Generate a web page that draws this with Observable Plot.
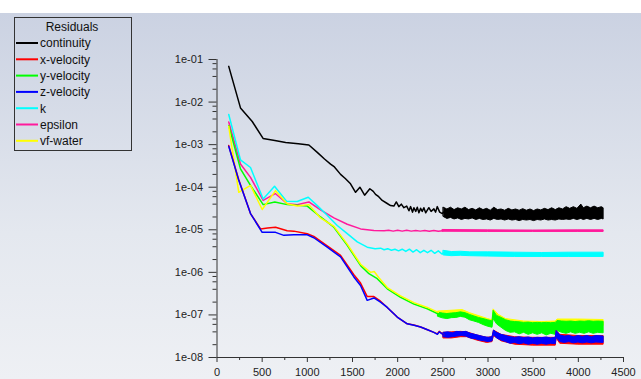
<!DOCTYPE html>
<html>
<head>
<meta charset="utf-8">
<script src="https://cdn.jsdelivr.net/npm/d3@7"></script>
<script src="https://cdn.jsdelivr.net/npm/@observablehq/plot@0.6"></script>
<style>
  body { margin: 0; background: #fff; font-family: "Liberation Sans", Arial, sans-serif; }
  #wrap { position: relative; width: 641px; height: 379px; overflow: hidden; background: #fff; }
  #panel { position: absolute; left: 0; top: 13px; width: 641px; height: 366px;
           background: linear-gradient(#cbd2e2, #e4e8ef 60%, #eef0f4); }
  #legend { position: absolute; left: 14px; top: 17px; }
  svg { overflow: visible; }
</style>
</head>
<body>
<div id="wrap">
  <div id="panel"></div>
  <div id="legend"></div>
</div>
<script>
// Residual histories: [iteration, residual]
const continuity = [
  [130,6.9e-2],[260,7.3e-3],[390,3.5e-3],[510,1.4e-3],[640,1.25e-3],[760,1.12e-3],[900,1.05e-3],
  [1017,9.8e-4],[1110,6.6e-4],[1190,4.6e-4],[1257,3.5e-4],[1300,3.0e-4],[1368,2.0e-4],[1420,1.6e-4],
  [1478,1.2e-4],[1534,7.6e-5],[1582,1.0e-4],[1634,6.5e-5],[1692,9.2e-5],[1730,8.0e-5],[1755,6.8e-5],
  [1790,6.0e-5],[1829,4.9e-5],[1880,4.2e-5],[1921,3.7e-5],[1958,3.6e-5],[1985,4.5e-5],[2013,3.5e-5],
  [2040,4.0e-5],[2069,3.3e-5],[2100,3.6e-5],[2125,2.8e-5],[2143,3.5e-5],[2165,2.6e-5],[2180,3.3e-5],
  [2200,2.7e-5],[2217,3.4e-5],[2235,2.5e-5],[2254,3.2e-5],[2272,2.7e-5],[2290,3.3e-5],[2310,2.5e-5],
  [2345,3.3e-5],[2370,2.7e-5],[2401,3.1e-5],[2420,2.6e-5],[2438,3.5e-5],[2465,2.6e-5],[2494,2.4e-5],
  [2510,2.6e-5]
];
const xVelocity = [
  [130,9.5e-4],[241,1.5e-4],[371,2.4e-5],[482,1.05e-5],[560,1.1e-5],[648,1.15e-5],[777,9.5e-6],
  [851,9.3e-6],[999,8.1e-6],[1072,7.0e-6],[1220,4.2e-6],[1368,2.5e-6],[1515,8.8e-7],[1589,5.6e-7],
  [1663,2.7e-7],[1737,2.7e-7],[1810,2.1e-7],[1885,1.5e-7],[1995,8.9e-8],[2106,6.2e-8],[2180,5.8e-8],
  [2254,5.2e-8],[2330,4.5e-8],[2401,3.9e-8],[2440,3.6e-8],[2460,4.1e-8],[2510,3.4e-8]
];
const yVelocity = [
  [130,2.8e-3],[260,2.7e-4],[371,1.1e-4],[511,3.9e-5],[640,4.5e-5],[777,3.9e-5],[999,3.6e-5],
  [1146,2.0e-5],[1294,1.15e-5],[1442,4.3e-6],[1590,1.44e-6],[1682,9.3e-7],[1774,7.1e-7],
  [1885,4.1e-7],[2032,2.6e-7],[2180,1.8e-7],[2328,1.4e-7],[2450,1.05e-7]
];
const zVelocity = [
  [130,9.1e-4],[241,1.45e-4],[371,2.4e-5],[500,8.7e-6],[648,8.7e-6],[740,7.4e-6],[851,7.6e-6],
  [999,7.6e-6],[1072,6.5e-6],[1220,3.9e-6],[1368,2.3e-6],[1515,7.8e-7],[1589,4.9e-7],[1663,2.2e-7],
  [1737,2.5e-7],[1810,2.0e-7],[1885,1.5e-7],[1995,8.9e-8],[2106,6.2e-8],[2180,5.7e-8],[2254,5.2e-8],
  [2330,4.5e-8],[2401,3.9e-8],[2440,3.5e-8],[2460,4.0e-8],[2510,3.4e-8]
];
const k = [
  [130,5.1e-3],[260,4.4e-4],[371,2.9e-4],[511,5.3e-5],[637,1.05e-4],[770,4.7e-5],[888,4.6e-5],
  [1010,5.8e-5],[1110,3.7e-5],[1220,2.2e-5],[1331,1.26e-5],[1442,8.1e-6],[1553,5.2e-6],[1663,3.9e-6],
  [1750,3.6e-6],[1811,3.7e-6],[1850,3.4e-6],[1890,3.6e-6],[1930,3.3e-6],[1970,3.5e-6],[2010,3.2e-6],
  [2050,3.5e-6],[2090,3.1e-6],[2130,3.5e-6],[2170,3.0e-6],[2210,3.4e-6],[2250,2.9e-6],[2290,3.3e-6],
  [2330,2.9e-6],[2370,3.3e-6],[2410,2.8e-6],[2450,3.2e-6],[2490,2.7e-6],[2510,2.9e-6]
];
const epsilon = [
  [130,3.4e-3],[260,3.5e-4],[371,1.7e-4],[511,4.9e-5],[645,7.1e-5],[777,4.1e-5],[888,3.9e-5],
  [1017,4.5e-5],[1150,2.9e-5],[1294,1.9e-5],[1442,1.35e-5],[1590,1.05e-5],[1737,9.6e-6],[1850,9.5e-6],
  [1900,9.7e-6],[1950,9.3e-6],[2000,9.7e-6],[2050,9.3e-6],[2100,9.7e-6],[2150,9.3e-6],[2200,9.6e-6],
  [2250,9.3e-6],[2300,9.6e-6],[2350,9.2e-6],[2400,9.6e-6],[2450,9.2e-6],[2500,9.5e-6]
];
const vfWater = [
  [130,2.7e-3],[241,7.6e-5],[371,1.1e-4],[500,3.0e-5],[648,8.3e-5],[777,4.1e-5],[888,3.6e-5],
  [1017,3.9e-5],[1146,1.9e-5],[1294,1.2e-5],[1442,4.6e-6],[1590,1.55e-6],[1700,1.0e-6],[1740,1.05e-6],
  [1790,7.6e-7],[1885,4.4e-7],[2032,2.8e-7],[2180,1.95e-7],[2328,1.5e-7],[2450,1.15e-7]
];

// Late-iteration scatter: [iteration, low, high]
const continuityBand = [
  [2510,2.0e-5,3.3e-5],[2550,1.8e-5,3.0e-5],[2590,1.9e-5,3.3e-5],[2630,1.75e-5,2.9e-5],[2670,1.85e-5,3.2e-5],
  [2710,1.7e-5,3.0e-5],[2750,1.8e-5,3.3e-5],[2790,1.75e-5,2.9e-5],[2830,1.85e-5,3.1e-5],[2870,1.7e-5,2.85e-5],
  [2910,1.8e-5,3.2e-5],[2950,1.7e-5,2.9e-5],[2990,1.75e-5,3.1e-5],[3030,1.65e-5,2.8e-5],[3070,1.8e-5,3.3e-5],
  [3110,1.7e-5,2.9e-5],[3150,1.75e-5,3.0e-5],[3190,1.65e-5,2.8e-5],[3230,1.75e-5,3.1e-5],[3270,1.65e-5,2.85e-5],
  [3310,1.7e-5,3.0e-5],[3350,1.6e-5,2.8e-5],[3390,1.7e-5,3.05e-5],[3430,1.65e-5,2.8e-5],[3470,1.7e-5,3.0e-5],
  [3510,1.6e-5,2.75e-5],[3550,1.7e-5,3.0e-5],[3590,1.65e-5,2.85e-5],[3630,1.75e-5,3.1e-5],[3670,1.65e-5,2.9e-5],
  [3710,1.7e-5,3.2e-5],[3750,1.65e-5,2.9e-5],[3790,1.75e-5,3.2e-5],[3830,1.7e-5,3.0e-5],[3870,1.75e-5,3.4e-5],
  [3910,1.7e-5,3.1e-5],[3950,1.8e-5,3.4e-5],[3990,1.7e-5,3.1e-5],[4033,1.8e-5,3.9e-5],[4060,1.7e-5,3.2e-5],
  [4100,1.8e-5,3.5e-5],[4140,1.7e-5,3.2e-5],[4180,1.8e-5,3.5e-5],[4220,1.7e-5,3.2e-5],[4260,1.8e-5,3.4e-5],
  [4280,1.75e-5,3.2e-5]
];
const xVelocityBand = [
  [2510,2.8e-8,3.8e-8],[2600,2.8e-8,3.9e-8],[2700,3.0e-8,4.0e-8],[2770,3.0e-8,3.9e-8],
  [2880,2.5e-8,3.3e-8],[2990,2.2e-8,2.9e-8],[3050,2.3e-8,3.0e-8],[3066,3.2e-8,4.3e-8],
  [3150,2.4e-8,3.4e-8],[3300,2.0e-8,3.0e-8],[3500,1.9e-8,2.9e-8],[3750,1.9e-8,2.9e-8],
  [3760,2.8e-8,4.2e-8],[3800,2.1e-8,3.4e-8],[4000,2.0e-8,3.2e-8],[4280,2.0e-8,3.2e-8]
];
const zVelocityBand = [
  [2510,3.0e-8,3.8e-8],[2560,2.9e-8,3.9e-8],[2610,3.0e-8,3.7e-8],[2660,3.1e-8,4.0e-8],[2710,3.2e-8,3.9e-8],
  [2760,3.1e-8,4.0e-8],[2810,2.8e-8,3.6e-8],[2860,2.7e-8,3.4e-8],[2910,2.5e-8,3.2e-8],[2960,2.4e-8,3.0e-8],
  [3010,2.3e-8,2.9e-8],[3050,2.4e-8,3.0e-8],[3066,3.4e-8,4.3e-8],[3100,2.8e-8,3.8e-8],[3150,2.5e-8,3.4e-8],
  [3200,2.3e-8,3.2e-8],[3250,2.1e-8,3.0e-8],[3300,2.2e-8,2.9e-8],[3350,2.05e-8,3.0e-8],[3400,2.15e-8,2.85e-8],
  [3450,2.0e-8,2.95e-8],[3500,2.1e-8,2.8e-8],[3550,2.0e-8,2.9e-8],[3600,2.1e-8,2.85e-8],[3650,2.0e-8,2.95e-8],
  [3700,2.1e-8,2.8e-8],[3750,2.05e-8,2.9e-8],[3760,2.9e-8,4.2e-8],[3800,2.3e-8,3.3e-8],[3850,2.2e-8,3.1e-8],
  [3900,2.3e-8,3.2e-8],[3950,2.15e-8,3.0e-8],[4000,2.25e-8,3.2e-8],[4050,2.15e-8,3.05e-8],[4100,2.25e-8,3.2e-8],
  [4150,2.15e-8,3.0e-8],[4200,2.25e-8,3.2e-8],[4280,2.2e-8,3.1e-8]
];
const yVelocityBand = [
  [2450,9.0e-8,1.12e-7],[2500,8.3e-8,1.08e-7],[2550,8.0e-8,1.05e-7],[2600,8.4e-8,1.08e-7],[2650,8.5e-8,1.1e-7],
  [2700,9.0e-8,1.15e-7],[2750,8.6e-8,1.1e-7],[2800,7.5e-8,1.0e-7],[2850,7.0e-8,9.2e-8],[2900,6.5e-8,8.5e-8],
  [2950,5.8e-8,8.0e-8],[3000,5.3e-8,7.5e-8],[3050,5.0e-8,7.0e-8],[3062,8.0e-8,1.25e-7],[3100,6.0e-8,9.5e-8],
  [3150,5.0e-8,8.5e-8],[3200,4.2e-8,7.5e-8],[3250,3.8e-8,7.0e-8],[3300,3.9e-8,6.8e-8],[3350,3.5e-8,6.7e-8],
  [3400,3.8e-8,6.5e-8],[3450,3.4e-8,6.6e-8],[3500,3.7e-8,6.4e-8],[3550,3.4e-8,6.5e-8],[3600,3.7e-8,6.4e-8],
  [3650,3.3e-8,6.5e-8],[3700,3.6e-8,6.4e-8],[3750,3.4e-8,6.5e-8],[3770,4.2e-8,7.2e-8],[3820,3.8e-8,7.0e-8],
  [3870,3.6e-8,6.9e-8],[3920,3.9e-8,7.0e-8],[3970,3.6e-8,6.8e-8],[4020,3.8e-8,7.0e-8],[4070,3.6e-8,6.9e-8],
  [4120,3.9e-8,7.1e-8],[4170,3.6e-8,6.9e-8],[4220,3.8e-8,7.0e-8],[4280,3.7e-8,6.9e-8]
];
const kBand = [
  [2510,2.5e-6,3.2e-6],[2600,2.4e-6,3.0e-6],[2700,2.45e-6,3.05e-6],[2800,2.4e-6,2.95e-6],
  [3000,2.35e-6,2.95e-6],[3300,2.3e-6,2.9e-6],[3600,2.3e-6,2.85e-6],[3900,2.3e-6,2.9e-6],[4280,2.3e-6,2.9e-6]
];
const epsilonBand = [
  [2500,9.0e-6,9.9e-6],[3000,8.9e-6,9.7e-6],[3500,8.9e-6,9.6e-6],[4000,8.9e-6,9.7e-6],[4280,8.9e-6,9.7e-6]
];
const vfWaterBand = [
  [2450,9.5e-8,1.2e-7],[2720,1.0e-7,1.3e-7],[2800,8.5e-8,1.1e-7],[3000,6.5e-8,8.0e-8],
  [3050,6.0e-8,7.5e-8],[3062,1.0e-7,1.35e-7],[3120,7.0e-8,1.0e-7],[3200,5.5e-8,8.0e-8],
  [3400,5.0e-8,7.0e-8],[3600,5.0e-8,6.8e-8],[3750,5.0e-8,7.0e-8],[3770,5.5e-8,7.8e-8],
  [4000,5.5e-8,7.8e-8],[4280,5.5e-8,7.6e-8]
];

const seriesNames = ["continuity", "x-velocity", "y-velocity", "z-velocity", "k", "epsilon", "vf-water"];
const seriesColors = ["#000000", "#ff0000", "#00ff00", "#0000ff", "#00ffff", "#ff1a9c", "#ffff00"];

const xTicks = [0, 500, 1000, 1500, 2000, 2500, 3000, 3500, 4000, 4500];
const yTicks = [1e-1, 1e-2, 1e-3, 1e-4, 1e-5, 1e-6, 1e-7, 1e-8];
const yTickLabels = ["1e-01", "1e-02", "1e-03", "1e-04", "1e-05", "1e-06", "1e-07", "1e-08"];

// minor ticks: every 250 iterations, and 2/4/6/8 within each decade
const xMinor = d3.range(250, 4500, 500);
const yMinor = yTicks.slice(1).flatMap(d => [2, 4, 6, 8].map(m => m * d));

const lines = [continuity, xVelocity, yVelocity, zVelocity, k, epsilon, vfWater];
const bands = [continuityBand, xVelocityBand, yVelocityBand, zVelocityBand, kBand, epsilonBand, vfWaterBand];

const it = d => d[0];
const bandMark = i => Plot.areaY(bands[i], {
  x: it, y1: d => d[1], y2: d => d[2],
  fill: seriesColors[i], stroke: seriesColors[i], strokeWidth: 1
});
const lineMark = i => Plot.line(lines[i], {
  x: it, y: d => d[1], stroke: seriesColors[i], strokeWidth: 1.5, strokeLinejoin: "round"
});

const axisStyle = {stroke: "#333", color: "#222"};

const chart = Plot.plot({
  width: 641,
  height: 366,
  marginTop: 46,
  marginBottom: 22,
  marginLeft: 216.5,
  marginRight: 18,
  style: {background: "transparent", fontFamily: "'Liberation Sans', Arial, sans-serif", fontSize: "11px", color: "#222"},
  x: {domain: [0, 4500], label: null},
  y: {type: "log", domain: [1e-8, 1e-1], label: null},
  marks: [
    Plot.axisX(xMinor, {tickSize: 3, tickFormat: () => "", label: null, ...axisStyle}),
    Plot.axisX(xTicks, {tickSize: 5, tickPadding: 6, tickFormat: d => String(d), label: null, ...axisStyle}),
    Plot.axisY(yMinor, {tickSize: 4, tickFormat: () => "", label: null, ...axisStyle}),
    Plot.axisY(yTicks, {tickSize: 8, tickPadding: 6, tickFormat: d => yTickLabels[yTicks.indexOf(d)], label: null, ...axisStyle}),
    Plot.ruleX([0], {stroke: "#333"}),
    Plot.ruleY([1e-8], {stroke: "#333"}),
    // tails drawn under their lines; red under blue, yellow under green
    bandMark(0), bandMark(5), bandMark(4),
    bandMark(6), bandMark(2),
    bandMark(1), bandMark(3),
    lineMark(0), lineMark(5), lineMark(4),
    lineMark(2), lineMark(6),
    lineMark(1), lineMark(3)
  ]
});
chart.style.position = "absolute";
chart.style.left = "0px";
chart.style.top = "13px";
document.getElementById("wrap").appendChild(chart);

// Legend box
const lg = d3.select("#legend").append("svg").attr("width", 118).attr("height", 134);
lg.append("rect").attr("x", 0.5).attr("y", 0.5).attr("width", 117).attr("height", 133)
  .attr("fill", "none").attr("stroke", "#333").attr("stroke-width", 1);
lg.append("text").attr("x", 58).attr("y", 14).attr("text-anchor", "middle")
  .attr("font-size", 12).attr("fill", "#111").text("Residuals");
seriesNames.forEach((name, i) => {
  const y = 26 + i * 16.3;
  lg.append("line").attr("x1", 2).attr("x2", 24).attr("y1", y).attr("y2", y)
    .attr("stroke", seriesColors[i]).attr("stroke-width", 2);
  lg.append("text").attr("x", 26).attr("y", y + 4.3).attr("font-size", 12)
    .attr("fill", "#111").text(name);
});
</script>
</body>
</html>
